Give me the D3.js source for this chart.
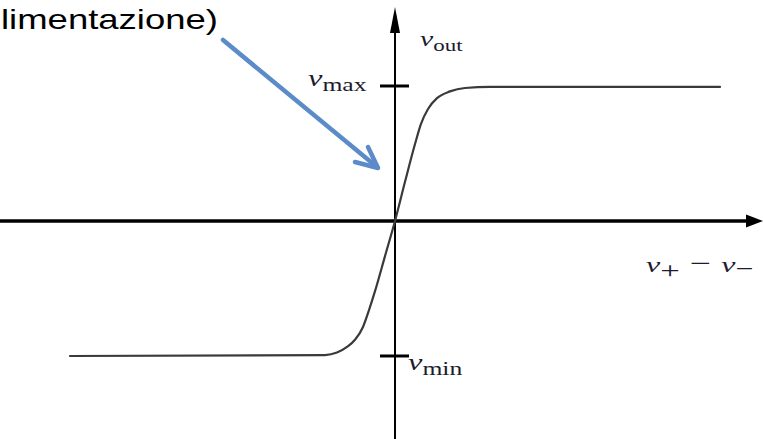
<!DOCTYPE html>
<html>
<head>
<meta charset="utf-8">
<script src="https://cdn.jsdelivr.net/npm/d3@7"></script>
<style>
  html, body { margin: 0; padding: 0; background: #fff; }
  svg { display: block; }
</style>
</head>
<body>
<div id="chart"></div>
<script>

// transfer characteristic (x: v+ - v-, y: vout / vmax)
var vdiff = [-32.5, -7, -5.8, -4.8, -4, -3.2, -2.6, -2, -1, 0, 1, 2, 2.6, 3.3, 4.2, 5.5, 7, 9.5, 32.5]
var vout = [-1.0, -0.993, -0.975, -0.933, -0.88, -0.785, -0.66, -0.52, -0.26, 0, 0.29, 0.57, 0.72, 0.83, 0.91, 0.96, 0.985, 0.993, 0.993]

var vmax = 1
var vmin = -1

var caption = "limentazione)"

var width = 763
var height = 439

var x = d3.scaleLinear().domain([-39.5, 36.8]).range([0, width])
var y = d3.scaleLinear().domain([-1.615, 1.637]).range([height, 0])

var svg = d3.select("#chart").append("svg")
    .attr("width", width)
    .attr("height", height)

// axes
svg.append("line")
    .attr("x1", x(-39.5))
    .attr("x2", x(35.5))
    .attr("y1", y(0))
    .attr("y2", y(0))
    .attr("stroke", "#000")
    .attr("stroke-width", 3.5)

svg.append("path")
    .attr("d", "M" + width + "," + y(0) + "L" + (width - 17) + "," + (y(0) - 6.5) + "L" + (width - 17) + "," + (y(0) + 6.5) + "Z")
    .attr("fill", "#000")

svg.append("line")
    .attr("x1", x(0))
    .attr("x2", x(0))
    .attr("y1", height)
    .attr("y2", 28)
    .attr("stroke", "#000")
    .attr("stroke-width", 2)

svg.append("path")
    .attr("d", "M" + x(0) + ",7L" + (x(0) - 5) + ",33L" + (x(0) + 5) + ",33Z")
    .attr("fill", "#000")

// vmax / vmin ticks
svg.selectAll(".tick")
    .data([vmax, vmin])
    .join("line")
    .attr("class", "tick")
    .attr("x1", x(-1.5))
    .attr("x2", x(1.4))
    .attr("y1", d => y(d))
    .attr("y2", d => y(d))
    .attr("stroke", "#000")
    .attr("stroke-width", 3)

// the curve
var pts = vdiff.map((d, i) => [d, vout[i]])

svg.append("path")
    .datum(pts)
    .attr("fill", "none")
    .attr("stroke", "#3a3a3a")
    .attr("stroke-width", 2.2)
    .attr("stroke-linecap", "round")
    .attr("d", d3.line()
      .x(d => x(d[0]))
      .y(d => y(d[1]))
      .curve(d3.curveMonotoneX))

// math labels
function mathLabel(tx, ty, sx, parts) {
  var g = svg.append("g")
      .attr("transform", "translate(" + tx + "," + ty + ") scale(" + sx + ",1)")
  var t = g.append("text")
      .attr("font-family", "'Liberation Serif', 'DejaVu Serif', serif")
      .attr("fill", "#1c1c2e")
  parts.forEach(p => {
    t.append("tspan")
      .attr("font-style", p.italic ? "italic" : "normal")
      .attr("font-size", p.size)
      .attr("dy", p.dy || 0)
      .attr("dx", p.dx || 0)
      .text(p.text)
  })
}

mathLabel(420, 46, 1.35, [
  {text: "v", italic: true, size: 22},
  {text: "out", size: 17, dy: 5}
])

mathLabel(308, 86, 1.35, [
  {text: "v", italic: true, size: 24},
  {text: "max", size: 19, dy: 5}
])

mathLabel(408, 370, 1.35, [
  {text: "v", italic: true, size: 24},
  {text: "min", size: 19, dy: 5}
])

mathLabel(646, 272, 1.45, [
  {text: "v", italic: true, size: 22},
  {text: "+", size: 24, dy: 6},
  {text: "\u2212", size: 26, dy: -6, dx: 7},
  {text: "v", italic: true, size: 22, dx: 7},
  {text: "\u2212", size: 22, dy: 4}
])

// caption cut at the left edge
svg.append("text")
    .attr("x", 1)
    .attr("y", 29)
    .attr("font-family", "Arial, 'Liberation Sans', sans-serif")
    .attr("font-size", 28)
    .attr("fill", "#000")
    .attr("textLength", 217)
    .attr("lengthAdjust", "spacingAndGlyphs")
    .text(caption)

// blue pointer arrow
var blue = svg.append("g")
    .attr("stroke", "#5b8bc9")
    .attr("stroke-width", 4.5)
    .attr("stroke-linecap", "round")
    .attr("stroke-linejoin", "round")
    .attr("fill", "none")

blue.append("line")
    .attr("x1", 223).attr("y1", 40)
    .attr("x2", 377).attr("y2", 167)

blue.append("path")
    .attr("d", "M355,162L378,168L368,147")

</script>
</body>
</html>
